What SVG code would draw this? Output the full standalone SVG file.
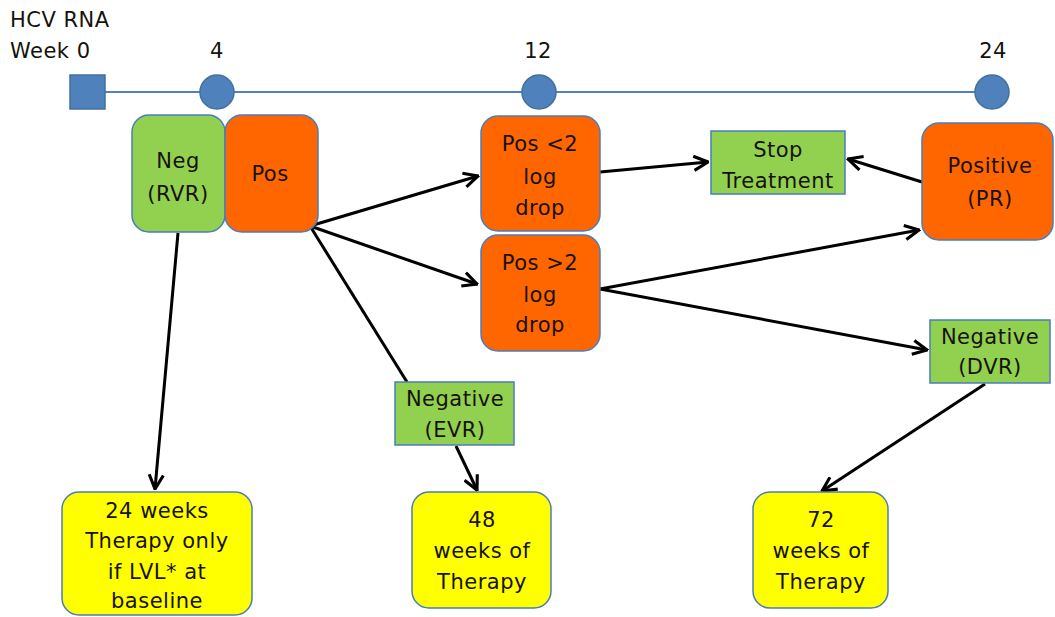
<svg xmlns="http://www.w3.org/2000/svg" width="1055" height="617" viewBox="0 0 1055 617">
<defs>
<style>
text{font-family:"DejaVu Sans","Liberation Sans",sans-serif;font-size:21px;letter-spacing:0.5px;fill:#16120c;text-anchor:middle}
.lbl{text-anchor:start}
.green{fill:#92D050;stroke:#4A7EBB;stroke-width:1.5}
.orange{fill:#FF6600;stroke:#4A7EBB;stroke-width:1.5}
.yellow{fill:#FFFF00;stroke:#4A7EBB;stroke-width:1.5}
.tl{fill:#4F81BD;stroke:#41719C;stroke-width:1.5}
.conn path{fill:none;stroke:#000;stroke-width:3}
</style>
<marker id="arr" viewBox="0 0 12 12" refX="11" refY="6" markerWidth="17" markerHeight="17" markerUnits="userSpaceOnUse" orient="auto">
<path d="M1,1 L11,6 L1,11" fill="none" stroke="#000" stroke-width="2.2" stroke-linejoin="miter"/>
</marker>
</defs>
<rect width="1055" height="617" fill="#fff"/>

<g id="timeline">
<text class="lbl" x="10" y="27">HCV RNA</text>
<text class="lbl" x="10" y="58">Week 0</text>
<text x="217" y="58">4</text>
<text x="538" y="58">12</text>
<text x="993" y="58">24</text>
<line x1="105" y1="92" x2="992" y2="92" stroke="#4F81BD" stroke-width="2"/>
<rect class="tl" x="70" y="75" width="35" height="34"/>
<circle class="tl" cx="217" cy="92" r="17"/>
<circle class="tl" cx="539" cy="92" r="17"/>
<circle class="tl" cx="992" cy="92" r="17"/>
</g>

<g class="conn" id="connectors">
<path d="M178,233 L155,489" marker-end="url(#arr)"/>
<path d="M310,226 L478,176" marker-end="url(#arr)"/>
<path d="M310,226 L477,284" marker-end="url(#arr)"/>
<path d="M310,226 L407,382"/>
<path d="M456,446 L477,490" marker-end="url(#arr)"/>
<path d="M600,172 L708,162" marker-end="url(#arr)"/>
<path d="M922,182 L848,159" marker-end="url(#arr)"/>
<path d="M600,289 L919,230" marker-end="url(#arr)"/>
<path d="M600,289 L927,350" marker-end="url(#arr)"/>
<path d="M985,384 L822,491" marker-end="url(#arr)"/>
</g>

<g id="neg-rvr">
<rect class="green" x="132" y="115" width="93" height="117" rx="17"/>
<text x="178" y="168">Neg</text>
<text x="178" y="201">(RVR)</text>
</g>
<g id="pos">
<rect class="orange" x="225" y="115" width="93" height="117" rx="17"/>
<text x="270" y="181">Pos</text>
</g>
<g id="pos-lt2">
<rect class="orange" x="481" y="116" width="119" height="115" rx="17"/>
<text x="540" y="151">Pos  &lt;2</text>
<text x="540" y="184">log</text>
<text x="540" y="215">drop</text>
</g>
<g id="pos-gt2">
<rect class="orange" x="481" y="235" width="119" height="116" rx="17"/>
<text x="540" y="270">Pos  &gt;2</text>
<text x="540" y="302">log</text>
<text x="540" y="332">drop</text>
</g>
<g id="stop">
<rect class="green" x="711" y="131" width="134" height="63"/>
<text x="778" y="157">Stop</text>
<text x="778" y="188">Treatment</text>
</g>
<g id="positive-pr">
<rect class="orange" x="922" y="123" width="131" height="117" rx="17"/>
<text x="990" y="173">Positive</text>
<text x="990" y="206">(PR)</text>
</g>
<g id="neg-dvr">
<rect class="green" x="930" y="320" width="120" height="63"/>
<text x="990" y="344">Negative</text>
<text x="990" y="374">(DVR)</text>
</g>
<g id="neg-evr">
<rect class="green" x="395" y="382" width="119" height="63"/>
<text x="455" y="406">Negative</text>
<text x="455" y="437">(EVR)</text>
</g>
<g id="w24">
<rect class="yellow" x="62" y="492" width="190" height="123" rx="17"/>
<text x="157" y="518">24 weeks</text>
<text x="157" y="548">Therapy only</text>
<text x="157" y="579">if LVL* at</text>
<text x="157" y="608">baseline</text>
</g>
<g id="w48">
<rect class="yellow" x="412" y="492" width="139" height="116" rx="17"/>
<text x="482" y="527">48</text>
<text x="482" y="558">weeks of</text>
<text x="482" y="589">Therapy</text>
</g>
<g id="w72">
<rect class="yellow" x="753" y="492" width="135" height="116" rx="17"/>
<text x="821" y="527">72</text>
<text x="821" y="558">weeks of</text>
<text x="821" y="589">Therapy</text>
</g>
</svg>
